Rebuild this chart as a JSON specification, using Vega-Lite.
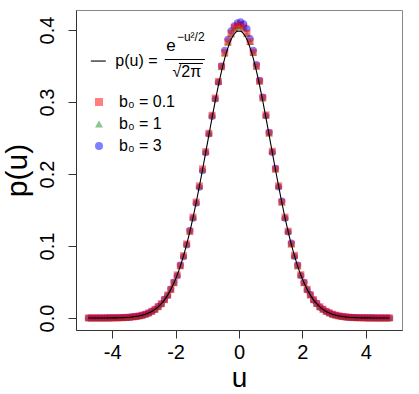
{
  "$schema": "https://vega.github.io/schema/vega-lite/v6.json",
  "width": 326,
  "height": 320,
  "autosize": {"type": "none"},
  "padding": {"left": 76, "top": 10, "right": 17, "bottom": 64},
  "background": "white",
  "config": {
    "font": "Liberation Sans",
    "view": {"stroke": "#888888", "strokeWidth": 1},
    "axis": {
      "grid": false,
      "domainColor": "#333333",
      "tickColor": "#333333",
      "tickSize": 8,
      "labelFont": "Liberation Sans",
      "labelFontSize": 20,
      "labelColor": "black",
      "titleFont": "Liberation Sans",
      "titleFontSize": 30,
      "titleFontWeight": "normal",
      "titleColor": "black"
    }
  },
  "datasets": {
    "pts": [
      {"u": -4.75, "f": 0.0000, "s01": 0.0000, "s1": 0.0000, "s3": 0.0000},
      {"u": -4.65, "f": 0.0000, "s01": 0.0000, "s1": 0.0000, "s3": 0.0000},
      {"u": -4.55, "f": 0.0000, "s01": 0.0000, "s1": 0.0000, "s3": 0.0000},
      {"u": -4.45, "f": 0.0000, "s01": 0.0000, "s1": 0.0000, "s3": 0.0000},
      {"u": -4.35, "f": 0.0000, "s01": 0.0000, "s1": 0.0000, "s3": 0.0000},
      {"u": -4.25, "f": 0.0000, "s01": 0.0000, "s1": 0.0001, "s3": 0.0000},
      {"u": -4.15, "f": 0.0001, "s01": 0.0001, "s1": 0.0001, "s3": 0.0001},
      {"u": -4.05, "f": 0.0001, "s01": 0.0001, "s1": 0.0001, "s3": 0.0001},
      {"u": -3.95, "f": 0.0002, "s01": 0.0002, "s1": 0.0002, "s3": 0.0002},
      {"u": -3.85, "f": 0.0002, "s01": 0.0002, "s1": 0.0003, "s3": 0.0002},
      {"u": -3.75, "f": 0.0004, "s01": 0.0004, "s1": 0.0004, "s3": 0.0003},
      {"u": -3.65, "f": 0.0005, "s01": 0.0005, "s1": 0.0005, "s3": 0.0006},
      {"u": -3.55, "f": 0.0007, "s01": 0.0008, "s1": 0.0007, "s3": 0.0007},
      {"u": -3.45, "f": 0.0010, "s01": 0.0010, "s1": 0.0011, "s3": 0.0010},
      {"u": -3.35, "f": 0.0015, "s01": 0.0015, "s1": 0.0015, "s3": 0.0016},
      {"u": -3.25, "f": 0.0020, "s01": 0.0021, "s1": 0.0020, "s3": 0.0019},
      {"u": -3.15, "f": 0.0028, "s01": 0.0028, "s1": 0.0029, "s3": 0.0028},
      {"u": -3.05, "f": 0.0038, "s01": 0.0039, "s1": 0.0038, "s3": 0.0036},
      {"u": -2.95, "f": 0.0051, "s01": 0.0052, "s1": 0.0052, "s3": 0.0053},
      {"u": -2.85, "f": 0.0069, "s01": 0.0070, "s1": 0.0069, "s3": 0.0067},
      {"u": -2.75, "f": 0.0091, "s01": 0.0093, "s1": 0.0091, "s3": 0.0094},
      {"u": -2.65, "f": 0.0119, "s01": 0.0120, "s1": 0.0121, "s3": 0.0117},
      {"u": -2.55, "f": 0.0155, "s01": 0.0157, "s1": 0.0155, "s3": 0.0160},
      {"u": -2.45, "f": 0.0198, "s01": 0.0199, "s1": 0.0200, "s3": 0.0195},
      {"u": -2.35, "f": 0.0252, "s01": 0.0254, "s1": 0.0253, "s3": 0.0258},
      {"u": -2.25, "f": 0.0317, "s01": 0.0319, "s1": 0.0317, "s3": 0.0312},
      {"u": -2.15, "f": 0.0396, "s01": 0.0395, "s1": 0.0398, "s3": 0.0402},
      {"u": -2.05, "f": 0.0488, "s01": 0.0490, "s1": 0.0488, "s3": 0.0500},
      {"u": -1.95, "f": 0.0596, "s01": 0.0598, "s1": 0.0600, "s3": 0.0585},
      {"u": -1.85, "f": 0.0721, "s01": 0.0725, "s1": 0.0722, "s3": 0.0735},
      {"u": -1.75, "f": 0.0863, "s01": 0.0865, "s1": 0.0868, "s3": 0.0850},
      {"u": -1.65, "f": 0.1023, "s01": 0.1028, "s1": 0.1025, "s3": 0.1015},
      {"u": -1.55, "f": 0.1200, "s01": 0.1205, "s1": 0.1200, "s3": 0.1215},
      {"u": -1.45, "f": 0.1394, "s01": 0.1400, "s1": 0.1395, "s3": 0.1385},
      {"u": -1.35, "f": 0.1604, "s01": 0.1610, "s1": 0.1605, "s3": 0.1595},
      {"u": -1.25, "f": 0.1827, "s01": 0.1835, "s1": 0.1830, "s3": 0.1815},
      {"u": -1.15, "f": 0.2059, "s01": 0.2070, "s1": 0.2060, "s3": 0.2045},
      {"u": -1.05, "f": 0.2299, "s01": 0.2310, "s1": 0.2315, "s3": 0.2295},
      {"u": -0.95, "f": 0.2541, "s01": 0.2565, "s1": 0.2570, "s3": 0.2555},
      {"u": -0.85, "f": 0.2780, "s01": 0.2815, "s1": 0.2820, "s3": 0.2800},
      {"u": -0.75, "f": 0.3011, "s01": 0.3055, "s1": 0.3050, "s3": 0.3040},
      {"u": -0.65, "f": 0.3230, "s01": 0.3285, "s1": 0.3280, "s3": 0.3275},
      {"u": -0.55, "f": 0.3429, "s01": 0.3495, "s1": 0.3485, "s3": 0.3500},
      {"u": -0.45, "f": 0.3605, "s01": 0.3685, "s1": 0.3670, "s3": 0.3720},
      {"u": -0.35, "f": 0.3752, "s01": 0.3835, "s1": 0.3825, "s3": 0.3870},
      {"u": -0.25, "f": 0.3867, "s01": 0.3950, "s1": 0.3940, "s3": 0.3990},
      {"u": -0.15, "f": 0.3945, "s01": 0.4030, "s1": 0.4025, "s3": 0.4060},
      {"u": -0.05, "f": 0.3984, "s01": 0.4060, "s1": 0.4045, "s3": 0.4100},
      {"u": 0.05, "f": 0.3984, "s01": 0.4075, "s1": 0.4050, "s3": 0.4115},
      {"u": 0.15, "f": 0.3945, "s01": 0.4040, "s1": 0.4020, "s3": 0.4085},
      {"u": 0.25, "f": 0.3867, "s01": 0.3955, "s1": 0.3945, "s3": 0.4020},
      {"u": 0.35, "f": 0.3752, "s01": 0.3840, "s1": 0.3835, "s3": 0.3880},
      {"u": 0.45, "f": 0.3605, "s01": 0.3690, "s1": 0.3680, "s3": 0.3720},
      {"u": 0.55, "f": 0.3429, "s01": 0.3500, "s1": 0.3490, "s3": 0.3520},
      {"u": 0.65, "f": 0.3230, "s01": 0.3290, "s1": 0.3285, "s3": 0.3300},
      {"u": 0.75, "f": 0.3011, "s01": 0.3060, "s1": 0.3050, "s3": 0.3070},
      {"u": 0.85, "f": 0.2780, "s01": 0.2820, "s1": 0.2815, "s3": 0.2810},
      {"u": 0.95, "f": 0.2541, "s01": 0.2570, "s1": 0.2565, "s3": 0.2580},
      {"u": 1.05, "f": 0.2299, "s01": 0.2315, "s1": 0.2320, "s3": 0.2300},
      {"u": 1.15, "f": 0.2059, "s01": 0.2070, "s1": 0.2065, "s3": 0.2080},
      {"u": 1.25, "f": 0.1827, "s01": 0.1835, "s1": 0.1840, "s3": 0.1820},
      {"u": 1.35, "f": 0.1604, "s01": 0.1610, "s1": 0.1605, "s3": 0.1625},
      {"u": 1.45, "f": 0.1394, "s01": 0.1400, "s1": 0.1395, "s3": 0.1385},
      {"u": 1.55, "f": 0.1200, "s01": 0.1205, "s1": 0.1210, "s3": 0.1195},
      {"u": 1.65, "f": 0.1023, "s01": 0.1025, "s1": 0.1030, "s3": 0.1040},
      {"u": 1.75, "f": 0.0863, "s01": 0.0870, "s1": 0.0865, "s3": 0.0855},
      {"u": 1.85, "f": 0.0721, "s01": 0.0725, "s1": 0.0720, "s3": 0.0735},
      {"u": 1.95, "f": 0.0596, "s01": 0.0600, "s1": 0.0595, "s3": 0.0590},
      {"u": 2.05, "f": 0.0488, "s01": 0.0490, "s1": 0.0485, "s3": 0.0495},
      {"u": 2.15, "f": 0.0396, "s01": 0.0398, "s1": 0.0400, "s3": 0.0390},
      {"u": 2.25, "f": 0.0317, "s01": 0.0320, "s1": 0.0318, "s3": 0.0325},
      {"u": 2.35, "f": 0.0252, "s01": 0.0255, "s1": 0.0250, "s3": 0.0248},
      {"u": 2.45, "f": 0.0198, "s01": 0.0200, "s1": 0.0197, "s3": 0.0203},
      {"u": 2.55, "f": 0.0155, "s01": 0.0156, "s1": 0.0158, "s3": 0.0150},
      {"u": 2.65, "f": 0.0119, "s01": 0.0121, "s1": 0.0118, "s3": 0.0122},
      {"u": 2.75, "f": 0.0091, "s01": 0.0092, "s1": 0.0090, "s3": 0.0089},
      {"u": 2.85, "f": 0.0069, "s01": 0.0070, "s1": 0.0068, "s3": 0.0071},
      {"u": 2.95, "f": 0.0051, "s01": 0.0052, "s1": 0.0051, "s3": 0.0050},
      {"u": 3.05, "f": 0.0038, "s01": 0.0039, "s1": 0.0038, "s3": 0.0037},
      {"u": 3.15, "f": 0.0028, "s01": 0.0028, "s1": 0.0029, "s3": 0.0027},
      {"u": 3.25, "f": 0.0020, "s01": 0.0021, "s1": 0.0020, "s3": 0.0020},
      {"u": 3.35, "f": 0.0015, "s01": 0.0015, "s1": 0.0015, "s3": 0.0014},
      {"u": 3.45, "f": 0.0010, "s01": 0.0011, "s1": 0.0010, "s3": 0.0010},
      {"u": 3.55, "f": 0.0007, "s01": 0.0007, "s1": 0.0008, "s3": 0.0007},
      {"u": 3.65, "f": 0.0005, "s01": 0.0005, "s1": 0.0005, "s3": 0.0005},
      {"u": 3.75, "f": 0.0004, "s01": 0.0004, "s1": 0.0004, "s3": 0.0003},
      {"u": 3.85, "f": 0.0002, "s01": 0.0003, "s1": 0.0002, "s3": 0.0002},
      {"u": 3.95, "f": 0.0002, "s01": 0.0002, "s1": 0.0002, "s3": 0.0002},
      {"u": 4.05, "f": 0.0001, "s01": 0.0001, "s1": 0.0001, "s3": 0.0001},
      {"u": 4.15, "f": 0.0001, "s01": 0.0001, "s1": 0.0001, "s3": 0.0001},
      {"u": 4.25, "f": 0.0000, "s01": 0.0000, "s1": 0.0000, "s3": 0.0001},
      {"u": 4.35, "f": 0.0000, "s01": 0.0000, "s1": 0.0000, "s3": 0.0000},
      {"u": 4.45, "f": 0.0000, "s01": 0.0000, "s1": 0.0000, "s3": 0.0000},
      {"u": 4.55, "f": 0.0000, "s01": 0.0000, "s1": 0.0000, "s3": 0.0000},
      {"u": 4.65, "f": 0.0000, "s01": 0.0000, "s1": 0.0000, "s3": 0.0000},
      {"u": 4.75, "f": 0.0000, "s01": 0.0000, "s1": 0.0000, "s3": 0.0000}
    ],
    "one": [{"k": 1}]
  },
  "data": {"name": "pts"},
  "layer": [
    {
      "transform": [{"fold": ["s3", "s1", "s01"], "as": ["series", "p"]}],
      "mark": {"type": "point", "filled": true, "opacity": 0.5, "strokeWidth": 0},
      "encoding": {
        "x": {
          "field": "u", "type": "quantitative", "title": "u",
          "scale": {"domain": [-5.14, 5.14], "nice": false, "zero": false},
          "axis": {"values": [-4, -2, 0, 2, 4], "labelExpr": "'' + datum.value", "labelPadding": 4, "titleFontSize": 28, "titleBaseline": "alphabetic", "titlePadding": 24}
        },
        "y": {
          "field": "p", "type": "quantitative", "title": "p(u)",
          "scale": {"domain": [-0.0167, 0.4278], "nice": false, "zero": false},
          "axis": {"values": [0, 0.1, 0.2, 0.3, 0.4], "format": ".1f", "labelAngle": -90, "labelAlign": "center", "labelBaseline": "alphabetic", "labelPadding": 15, "titleBaseline": "alphabetic", "titlePadding": 11}
        },
        "color": {
          "field": "series", "type": "nominal",
          "scale": {"domain": ["s01", "s1", "s3"], "range": ["#ff0000", "#1f8a1f", "#0000ff"]},
          "legend": {
            "orient": "none", "legendX": 15, "legendY": 84, "title": null, "padding": 0,
            "labelExpr": "datum.value == 's01' ? 'b₀ = 0.1' : datum.value == 's1' ? 'b₀ = 1' : 'b₀ = 3'",
            "labelFont": "Liberation Sans", "labelFontSize": 16, "labelColor": "black",
            "labelOffset": 12, "rowPadding": 6, "symbolSize": 64, "symbolOpacity": 0.5, "symbolStrokeWidth": 0
          }
        },
        "shape": {
          "field": "series", "type": "nominal",
          "scale": {"domain": ["s01", "s1", "s3"], "range": ["square", "triangle-up", "circle"]},
          "legend": {
            "orient": "none", "legendX": 15, "legendY": 84, "title": null, "padding": 0,
            "labelExpr": "datum.value == 's01' ? 'b₀ = 0.1' : datum.value == 's1' ? 'b₀ = 1' : 'b₀ = 3'",
            "labelFont": "Liberation Sans", "labelFontSize": 16, "labelColor": "black",
            "labelOffset": 12, "rowPadding": 6, "symbolSize": 64, "symbolOpacity": 0.5, "symbolStrokeWidth": 0
          }
        },
        "size": {"value": 50}
      }
    },
    {
      "mark": {"type": "line", "color": "black", "strokeWidth": 1.1, "interpolate": "monotone"},
      "encoding": {
        "x": {"field": "u", "type": "quantitative", "title": "u"},
        "y": {"field": "f", "type": "quantitative", "title": "p(u)"}
      }
    },
    {
      "data": {"name": "one"},
      "mark": {"type": "rule", "color": "black", "strokeWidth": 1.1},
      "encoding": {"x": {"datum": -4.673}, "x2": {"datum": -4.2}, "y": {"datum": 0.3569}}
    },
    {
      "data": {"name": "one"},
      "mark": {"type": "text", "text": "p(u) =", "font": "Liberation Sans", "fontSize": 16, "align": "left", "baseline": "middle", "color": "black"},
      "encoding": {"x": {"datum": -3.9}, "y": {"datum": 0.3569}}
    },
    {
      "data": {"name": "one"},
      "mark": {"type": "text", "text": "e", "font": "Liberation Sans", "fontSize": 17, "align": "center", "baseline": "middle", "color": "black"},
      "encoding": {"x": {"datum": -2.147}, "y": {"datum": 0.3778}}
    },
    {
      "data": {"name": "one"},
      "mark": {"type": "text", "text": "−u²/2", "font": "Liberation Sans", "fontSize": 12, "align": "left", "baseline": "middle", "color": "black"},
      "encoding": {"x": {"datum": -1.958}, "y": {"datum": 0.3903}}
    },
    {
      "data": {"name": "one"},
      "mark": {"type": "rule", "color": "black", "strokeWidth": 1},
      "encoding": {"x": {"datum": -2.337}, "x2": {"datum": -1.074}, "y": {"datum": 0.359}}
    },
    {
      "data": {"name": "one"},
      "mark": {"type": "text", "text": "√2π", "font": "Liberation Sans", "fontSize": 16, "align": "center", "baseline": "middle", "color": "black"},
      "encoding": {"x": {"datum": -1.642}, "y": {"datum": 0.3417}}
    },
    {
      "data": {"name": "one"},
      "mark": {"type": "rule", "color": "black", "strokeWidth": 1},
      "encoding": {"x": {"datum": -1.895}, "x2": {"datum": -1.137}, "y": {"datum": 0.3535}}
    }
  ]
}
